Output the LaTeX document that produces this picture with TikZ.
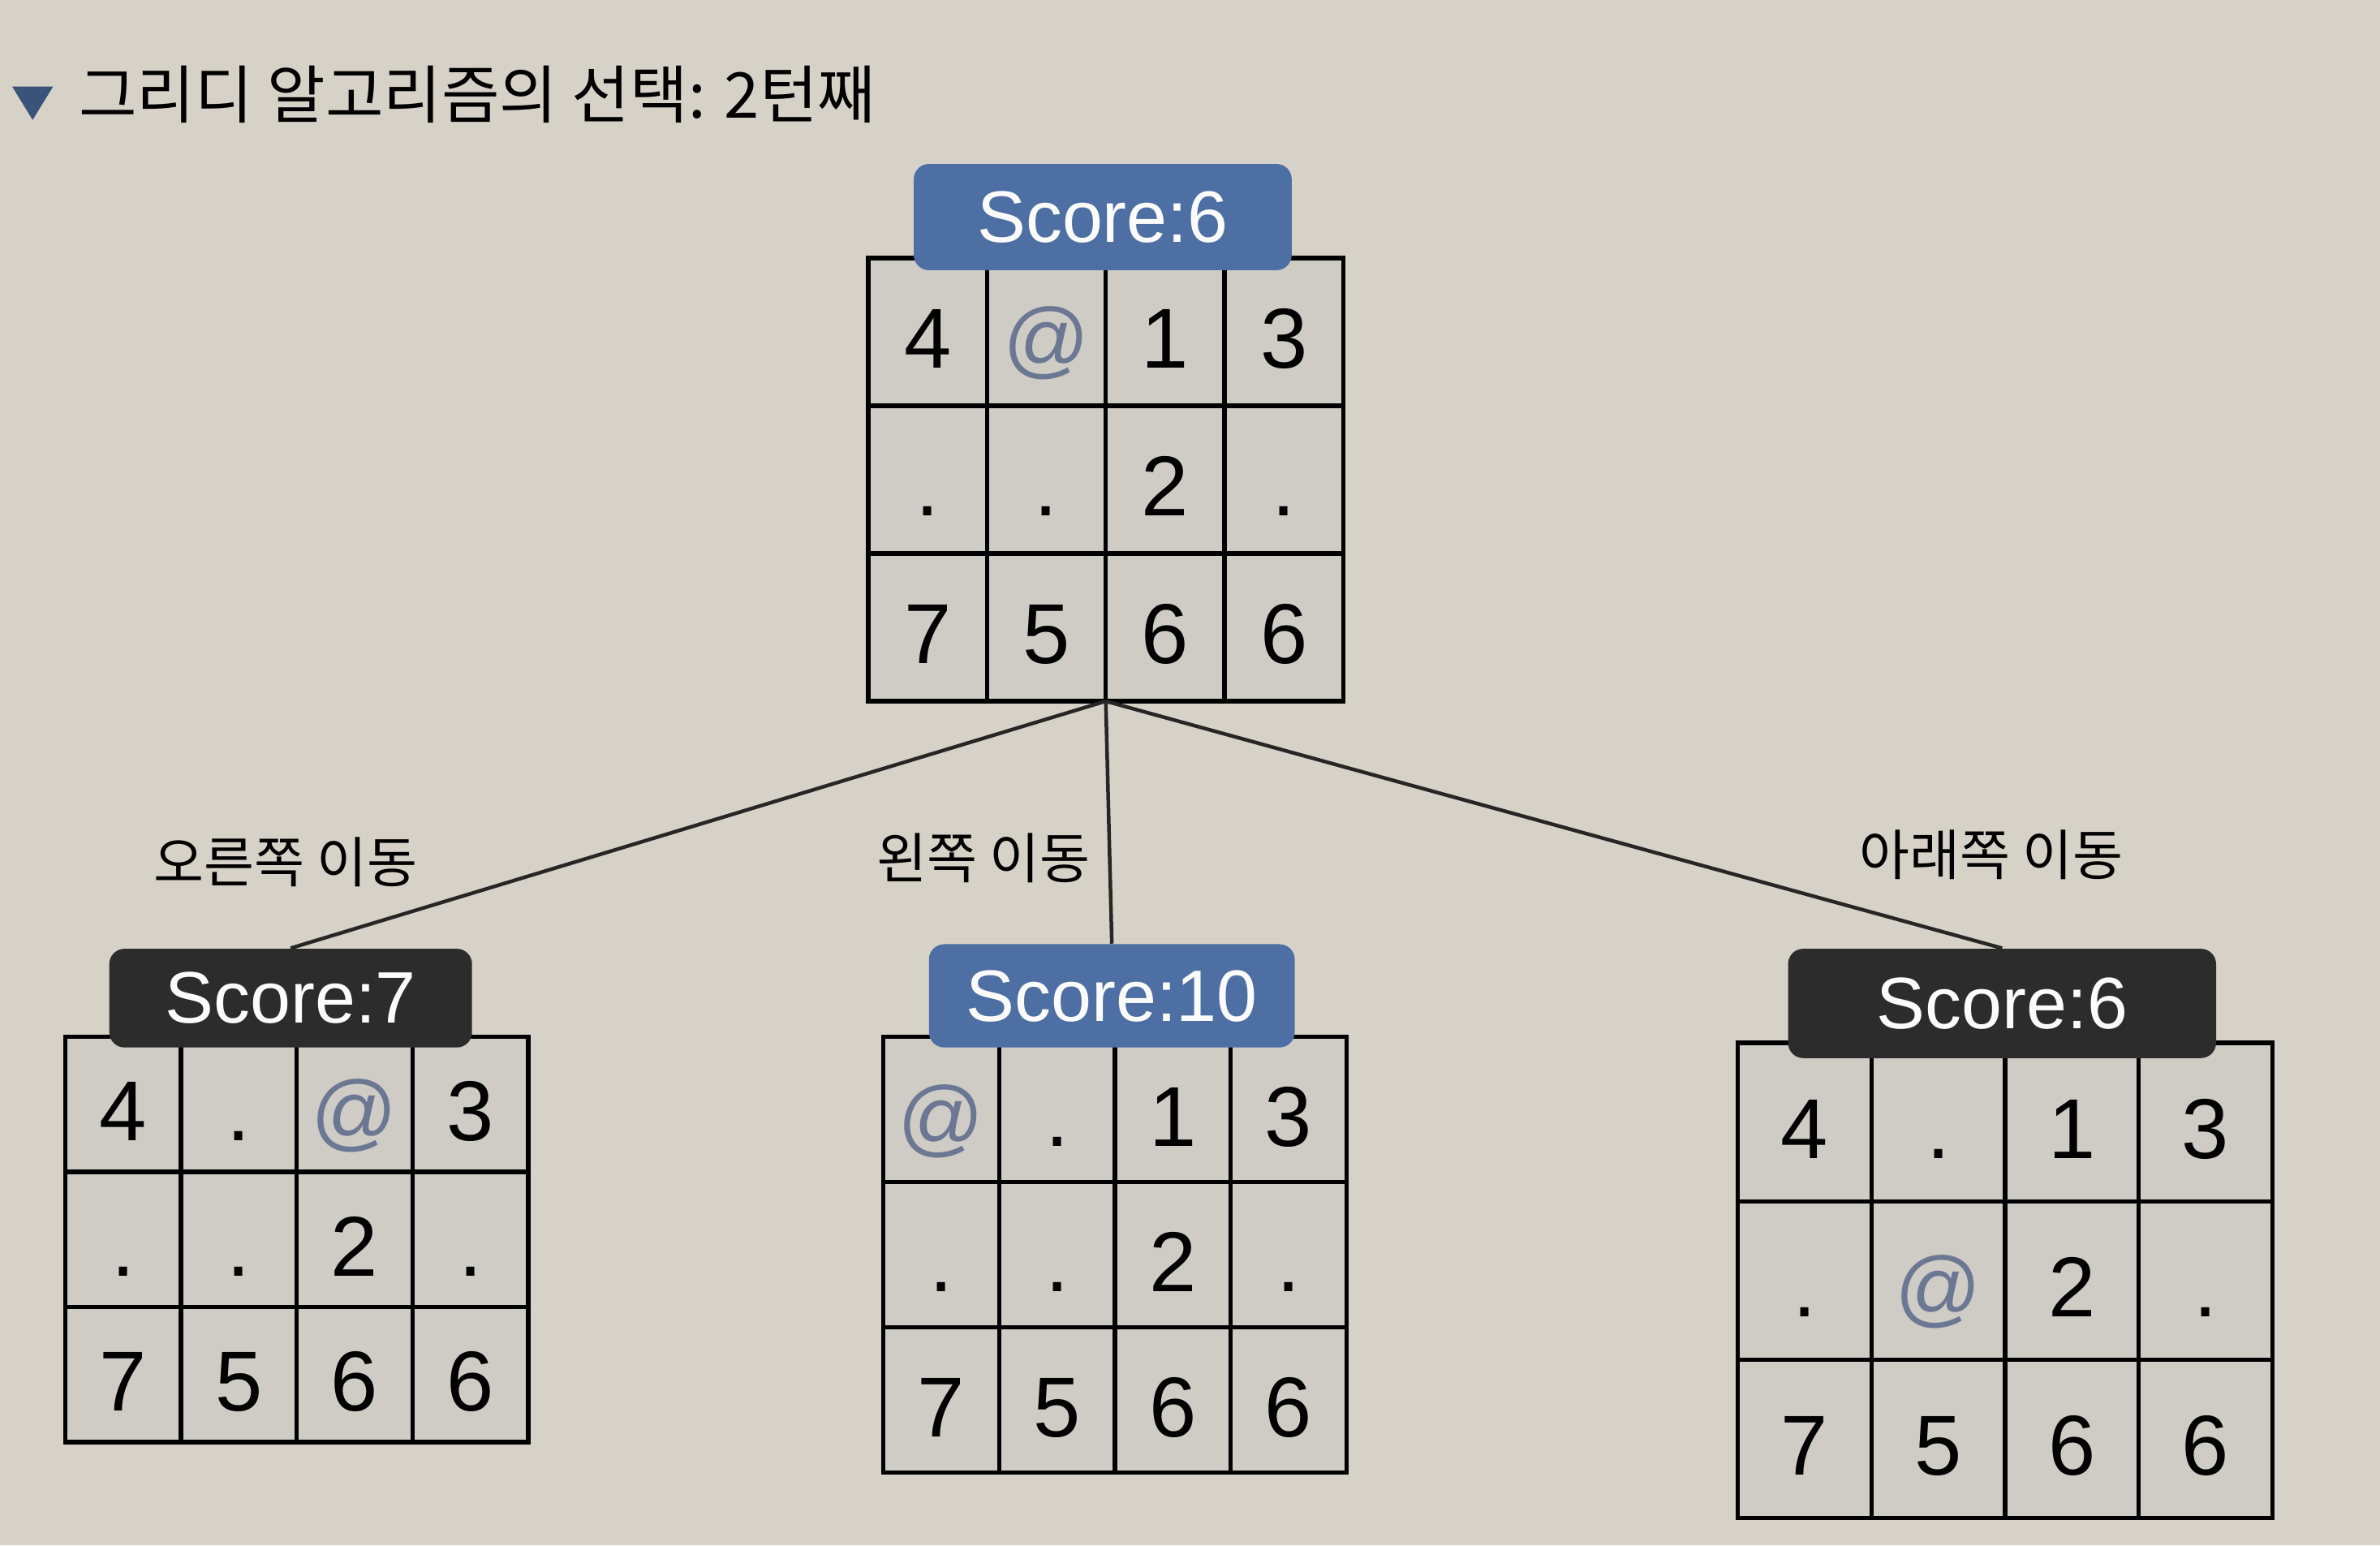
\documentclass[tikz,border=0pt]{standalone}
\usepackage{fontspec}
\setmainfont{Liberation Sans}
\newfontfamily\krfont{Noto Sans CJK KR}
\usetikzlibrary{positioning}

\definecolor{paper}{HTML}{D6D2C8}
\definecolor{cellgray}{HTML}{CFCCC5}
\definecolor{scoreblue}{HTML}{4E6FA4}
\definecolor{scoredark}{HTML}{2C2C2C}
\definecolor{atgray}{HTML}{6C7893}

\newcommand{\player}{\textcolor{atgray}{@}}
% name, left x, top y, cell width, cell height, 12 entries
\newcommand{\board}[6]{%
	\foreach \v [count=\i from 0] in {#6} {
		\pgfmathtruncatemacro{\col}{mod(\i,4)}
		\pgfmathtruncatemacro{\row}{div(\i,4)}
		\node[cell, minimum width=#4*0.5pt, minimum height=#5*0.5pt]
			at ({#2+#4*(\col+0.5)}, {#3+#5*(\row+0.5)}) (#1\row\col) {\v};
	}
}

\begin{document}
\begin{tikzpicture}[x=0.5pt, y=-0.5pt]
		\tikzstyle{cell} = [draw=black, line width=1.4pt, fill=cellgray, outer sep=0pt, inner sep=0pt, text height=24pt, text depth=0pt, font=\fontsize{28}{32}\selectfont]
		\tikzstyle{scoretag} = [rounded corners=5pt, text=white!92!paper, inner sep=0pt, font=\fontsize{24}{28}\selectfont]
		\tikzstyle{movetxt} = [draw=none, font=\krfont\fontsize{18}{21}\selectfont]
		\tikzstyle{link} = [line width=1.2pt, draw=black!85]
		
		\fill[paper] (0,0) rectangle (1568,1018);
		\useasboundingbox (0,0) rectangle (1568,1018);
		
		% title
		\fill[scoreblue!75!black] (8,57) -- (35,57) -- (21.5,79) -- cycle;
		\node[anchor=west, font=\krfont\fontsize{20.8}{24}\selectfont] at (45,62) (title) {그리디 알고리즘의 선택: 2턴째};
		
		% boards
		\board{top}{572}{170}{78.25}{97.3}{4,\player,1,3,.,.,2,.,7,5,6,6}
		\board{lft}{43}{683}{76.25}{89}{4,.,\player,3,.,.,2,.,7,5,6,6}
		\board{mid}{582}{683}{76.25}{95.7}{\player,.,1,3,.,.,2,.,7,5,6,6}
		\board{rgt}{1145}{687}{88}{104.3}{4,.,1,3,.,\player,2,.,7,5,6,6}
		
		% scores
		\node[scoretag, fill=scoreblue, minimum width=124.5pt, minimum height=35pt] at (726.5,143) (s-top) {Score:6};
		\node[scoretag, fill=scoredark, minimum width=119.5pt, minimum height=32.5pt] at (191.5,657.5) (s-lft) {Score:7};
		\node[scoretag, fill=scoreblue, minimum width=120.5pt, minimum height=34pt] at (732.5,656) (s-mid) {Score:10};
		\node[scoretag, fill=scoredark, minimum width=141pt, minimum height=36pt] at (1319,661) (s-rgt) {Score:6};
		
		% moves
		\node[movetxt] at (188,568) (m-right) {오른쪽 이동};
		\node[movetxt] at (648,565) (m-left) {왼쪽 이동};
		\node[movetxt] at (1312,563) (m-down) {아래쪽 이동};
		
		\draw[link] (top21.south east) -- (s-lft.north);
		\draw[link] (top21.south east) -- (s-mid.north);
		\draw[link] (top21.south east) -- (s-rgt.north);
\end{tikzpicture}
\end{document}
